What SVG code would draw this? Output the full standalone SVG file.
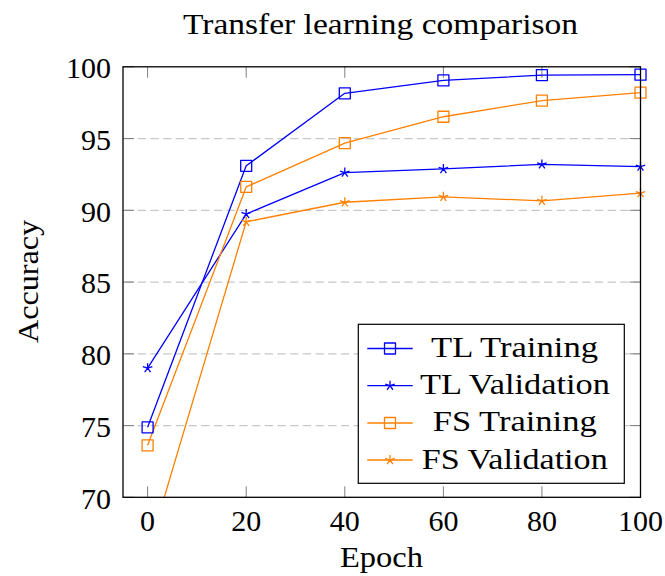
<svg xmlns="http://www.w3.org/2000/svg" width="665" height="576" viewBox="0 0 665 576" font-family="Liberation Serif, Times New Roman, Times, serif">
  <style>
    text { font-family: 'Liberation Serif', 'Times New Roman', Times, serif; font-size: 30px; fill: #000; }
    .tick { stroke: #808080; stroke-width: 1; fill: none; }
    .grid { stroke: #c8c8c8; stroke-width: 1.3; stroke-dasharray: 8.3 4.4; fill: none; }
    .frame { stroke: #000; stroke-width: 1.3; fill: none; }
    .blue { stroke: #0000ff; stroke-width: 1.3; fill: none; stroke-linejoin: round; }
    .orange { stroke: #ff8000; stroke-width: 1.3; fill: none; stroke-linejoin: round; }
    .xl { text-anchor: middle; }
    .yl { text-anchor: end; }
    .lg { text-anchor: middle; }
  </style>
  <defs>
    <clipPath id="plotArea">
      <rect x="123" y="66.8" width="517.5" height="430.5"/>
    </clipPath>
    <rect id="sq" x="-5.5" y="-5.5" width="11" height="11"/>
    <path id="star" d="M0,0 L0,-5 M0,0 L4.76,-1.55 M0,0 L-4.76,-1.55 M0,0 L-2.94,4.05 M0,0 L2.94,4.05"/>
  </defs>

  <rect width="665" height="576" fill="#fff"/>

  <!-- title -->
  <text id="title" x="380.5" y="34" class="xl" textLength="395" lengthAdjust="spacingAndGlyphs">Transfer learning comparison</text>

  <!-- horizontal grid -->
  <g id="grid">
    <line class="grid" x1="125" y1="425.55" x2="640.5" y2="425.55"/>
    <line class="grid" x1="125" y1="353.8" x2="640.5" y2="353.8"/>
    <line class="grid" x1="125" y1="282.05" x2="640.5" y2="282.05"/>
    <line class="grid" x1="125" y1="210.3" x2="640.5" y2="210.3"/>
    <line class="grid" x1="125" y1="138.55" x2="640.5" y2="138.55"/>
  </g>

  <!-- tick marks -->
  <g id="ticks">
    <path class="tick" d="M147.6,497.3v-11 M246.2,497.3v-11 M344.8,497.3v-11 M443.4,497.3v-11 M541.9,497.3v-11 M640.5,497.3v-11"/>
    <path class="tick" d="M147.6,66.8v11 M246.2,66.8v11 M344.8,66.8v11 M443.4,66.8v11 M541.9,66.8v11 M640.5,66.8v11"/>
    <path class="tick" d="M123,497.3h11 M123,425.55h11 M123,353.8h11 M123,282.05h11 M123,210.3h11 M123,138.55h11 M123,66.8h11"/>
    <path class="tick" d="M640.5,497.3h-11 M640.5,425.55h-11 M640.5,353.8h-11 M640.5,282.05h-11 M640.5,210.3h-11 M640.5,138.55h-11 M640.5,66.8h-11"/>
  </g>

  <!-- data series -->
  <g id="connectors" clip-path="url(#plotArea)">
    <polyline id="tl-training-line" class="blue" points="147.6,427.3 246.2,165.8 344.8,93.35 443.4,80.43 541.9,75.12 640.5,74.69"/>
    <polyline id="tl-validation-line" class="blue" points="147.6,368.15 246.2,214.03 344.8,172.56 443.4,168.97 541.9,164.38 640.5,166.68"/>
    <polyline id="fs-training-line" class="orange" points="147.6,445.35 246.2,186.91 344.8,143.14 443.4,116.74 541.9,100.67 640.5,92.63"/>
    <polyline id="fs-validation-line" class="orange" points="147.6,553.27 246.2,221.78 344.8,202.26 443.4,196.81 541.9,200.83 640.5,193.08"/>
  </g>

  <g id="tl-training-marks" class="blue">
    <use href="#sq" x="147.6" y="427.3"/>
    <use href="#sq" x="246.2" y="165.8"/>
    <use href="#sq" x="344.8" y="93.35"/>
    <use href="#sq" x="443.4" y="80.43"/>
    <use href="#sq" x="541.9" y="75.12"/>
    <use href="#sq" x="640.5" y="74.69"/>
  </g>
  <g id="tl-validation-marks" class="blue">
    <use href="#star" x="147.6" y="368.15"/>
    <use href="#star" x="246.2" y="214.03"/>
    <use href="#star" x="344.8" y="172.56"/>
    <use href="#star" x="443.4" y="168.97"/>
    <use href="#star" x="541.9" y="164.38"/>
    <use href="#star" x="640.5" y="166.68"/>
  </g>
  <g id="fs-training-marks" class="orange">
    <use href="#sq" x="147.6" y="445.35"/>
    <use href="#sq" x="246.2" y="186.91"/>
    <use href="#sq" x="344.8" y="143.14"/>
    <use href="#sq" x="443.4" y="116.74"/>
    <use href="#sq" x="541.9" y="100.67"/>
    <use href="#sq" x="640.5" y="92.63"/>
  </g>
  <g id="fs-validation-marks" class="orange">
    <use href="#star" x="246.2" y="221.78"/>
    <use href="#star" x="344.8" y="202.26"/>
    <use href="#star" x="443.4" y="196.81"/>
    <use href="#star" x="541.9" y="200.83"/>
    <use href="#star" x="640.5" y="193.08"/>
  </g>

  <!-- axis frame -->
  <rect id="axis-frame" class="frame" x="123" y="66.8" width="517.5" height="430.5"/>

  <!-- tick labels -->
  <g id="x-tick-labels">
    <text x="147.6" y="531" class="xl">0</text>
    <text x="246.2" y="531" class="xl">20</text>
    <text x="344.8" y="531" class="xl">40</text>
    <text x="443.4" y="531" class="xl">60</text>
    <text x="541.9" y="531" class="xl">80</text>
    <text x="640.5" y="531" class="xl">100</text>
  </g>
  <g id="y-tick-labels">
    <text x="111" y="508.5" class="yl">70</text>
    <text x="111" y="436.8" class="yl">75</text>
    <text x="111" y="365" class="yl">80</text>
    <text x="111" y="293.3" class="yl">85</text>
    <text x="111" y="221.5" class="yl">90</text>
    <text x="111" y="149.8" class="yl">95</text>
    <text x="111" y="78" class="yl">100</text>
  </g>

  <!-- axis labels -->
  <text id="x-label" x="381.5" y="566.5" class="xl" textLength="83" lengthAdjust="spacingAndGlyphs">Epoch</text>
  <text id="y-label" transform="translate(38,281.5) rotate(-90)" x="0" y="0" class="xl" textLength="123" lengthAdjust="spacingAndGlyphs">Accuracy</text>

  <!-- legend -->
  <g id="legend">
    <rect x="358.3" y="324.3" width="266" height="159" fill="#fff" stroke="#000" stroke-width="1.2"/>
    <g id="legend-tl-training">
      <line class="blue" x1="367.3" y1="348.5" x2="412.7" y2="348.5"/>
      <use href="#sq" x="390" y="348.5" class="blue"/>
      <text x="514.5" y="357" class="lg" textLength="167" lengthAdjust="spacingAndGlyphs">TL Training</text>
    </g>
    <g id="legend-tl-validation">
      <line class="blue" x1="367.3" y1="385.7" x2="412.7" y2="385.7"/>
      <use href="#star" x="390" y="385.7" class="blue"/>
      <text x="515" y="394" class="lg" textLength="190" lengthAdjust="spacingAndGlyphs">TL Validation</text>
    </g>
    <g id="legend-fs-training">
      <line class="orange" x1="367.3" y1="423" x2="412.7" y2="423"/>
      <use href="#sq" x="390" y="423" class="orange"/>
      <text x="514.7" y="431.3" class="lg" textLength="164" lengthAdjust="spacingAndGlyphs">FS Training</text>
    </g>
    <g id="legend-fs-validation">
      <line class="orange" x1="367.3" y1="460" x2="412.7" y2="460"/>
      <use href="#star" x="390" y="460" class="orange"/>
      <text x="514.7" y="468.5" class="lg" textLength="186" lengthAdjust="spacingAndGlyphs">FS Validation</text>
    </g>
  </g>
</svg>
